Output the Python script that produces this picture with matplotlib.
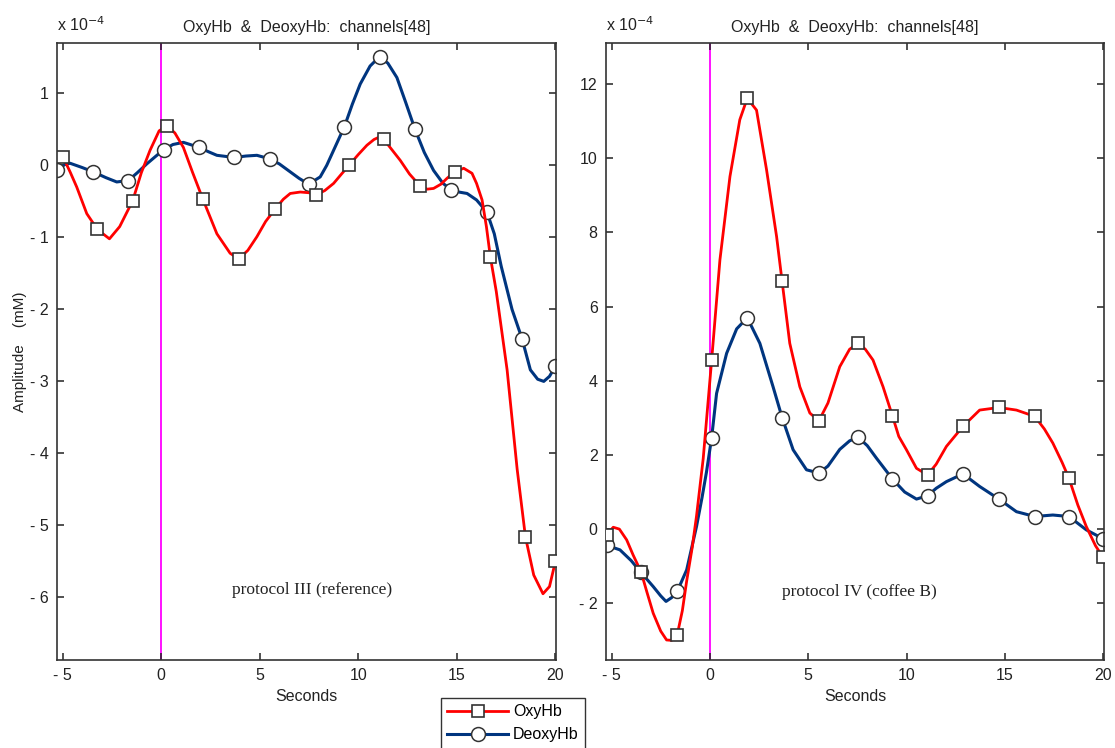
import matplotlib.pyplot as plt

# values, amplitude in units of 1e-4 mM, time in seconds
# protocol III (reference)
t_oxy_ref = [-5.1, -4.96, -4.6, -4.28, -3.77, -3.23, -2.62, -2.1, -1.44, -1.0,
             -0.56, -0.1, 0.30, 0.7, 1.13, 1.6, 2.12, 2.83, 3.5, 3.94,
             4.4, 4.86, 5.3, 5.77, 6.2, 6.55, 7.06, 7.5, 7.85, 8.3,
             8.75, 9.15, 9.53, 10.0, 10.44, 10.8, 11.12, 11.30, 11.7, 12.13,
             12.6, 13.15, 13.5, 13.82, 14.2, 14.5, 14.89, 15.35, 15.77, 16.0,
             16.28, 16.5, 16.70, 17.0, 17.55, 18.06, 18.48, 18.9, 19.37, 19.7, 20.0]
oxy_ref = [0.10, 0.11, -0.10, -0.30, -0.67, -0.89, -1.02, -0.85, -0.49, -0.10,
           0.21, 0.48, 0.55, 0.45, 0.25, -0.10, -0.47, -0.95, -1.22, -1.30,
           -1.18, -0.99, -0.78, -0.61, -0.47, -0.39, -0.37, -0.38, -0.41, -0.35,
           -0.25, -0.12, 0.00, 0.15, 0.28, 0.36, 0.40, 0.36, 0.22, 0.07,
           -0.12, -0.29, -0.33, -0.32, -0.26, -0.18, -0.09, -0.04, -0.11, -0.25,
           -0.48, -0.85, -1.27, -1.75, -2.84, -4.22, -5.16, -5.69, -5.95, -5.85, -5.50]
oxy_ref_marks = [-4.96, -3.23, -1.44, 0.30, 2.12, 3.94, 5.77, 7.85, 9.53, 11.30,
                 13.15, 14.89, 16.70, 18.48, 20.0]

t_deoxy_ref = [-5.26, -4.9, -4.62, -4.0, -3.44, -2.8, -2.25, -1.66, -1.2, -0.73,
               -0.3, 0.14, 0.6, 1.13, 1.93, 2.4, 2.83, 3.71, 4.3, 4.86,
               5.52, 6.0, 6.55, 7.0, 7.48, 8.07, 8.4, 8.75, 9.30, 9.7,
               10.1, 10.6, 11.08, 11.5, 11.96, 12.4, 12.88, 13.35, 13.82, 14.3,
               14.72, 15.1, 15.52, 16.0, 16.53, 16.9, 17.25, 17.8, 18.31, 18.73,
               19.1, 19.41, 19.7, 20.0]
deoxy_ref = [-0.07, 0.01, 0.03, -0.03, -0.09, -0.17, -0.23, -0.21, -0.10, 0.02,
             0.12, 0.22, 0.29, 0.32, 0.25, 0.19, 0.14, 0.11, 0.13, 0.14,
             0.09, 0.02, -0.09, -0.18, -0.26, -0.16, 0.00, 0.21, 0.54, 0.85,
             1.13, 1.38, 1.51, 1.42, 1.22, 0.88, 0.50, 0.18, -0.07, -0.25,
             -0.34, -0.37, -0.39, -0.48, -0.65, -0.95, -1.40, -2.00, -2.41, -2.84,
             -2.97, -3.00, -2.93, -2.79]
deoxy_ref_marks = [-5.26, -3.44, -1.66, 0.14, 1.93, 3.71, 5.52, 7.48, 9.30, 11.08,
                   12.88, 14.72, 16.53, 18.31, 20.0]

# protocol IV (coffee B)
t_oxy_cof = [-5.25, -4.91, -4.6, -4.23, -3.9, -3.5, -3.2, -2.88, -2.5, -2.2,
             -1.95, -1.66, -1.4, -1.18, -0.9, -0.68, -0.34, 0.09, 0.51, 1.02,
             1.52, 1.90, 2.37, 2.88, 3.39, 3.67, 4.06, 4.57, 5.08, 5.54,
             6.0, 6.6, 7.1, 7.53, 7.9, 8.29, 8.8, 9.28, 9.6, 9.99,
             10.5, 11.06, 11.5, 12.02, 12.86, 13.71, 14.69, 15.58, 16.51, 17.0,
             17.43, 17.9, 18.25, 18.7, 19.13, 19.6, 19.98]
oxy_cof = [-0.15, 0.05, 0.00, -0.29, -0.70, -1.15, -1.70, -2.27, -2.75, -2.99,
           -3.00, -2.85, -2.20, -1.40, -0.50, 0.35, 1.90, 4.56, 7.26, 9.51,
           11.04, 11.62, 11.30, 9.69, 7.89, 6.68, 5.01, 3.84, 3.13, 2.92,
           3.40, 4.38, 4.85, 5.01, 4.85, 4.56, 3.84, 3.05, 2.50, 2.14,
           1.64, 1.46, 1.75, 2.23, 2.77, 3.21, 3.28, 3.21, 3.04, 2.70,
           2.32, 1.80, 1.37, 0.65, 0.07, -0.45, -0.76]
oxy_cof_marks = [-5.25, -3.5, -1.66, 0.09, 1.90, 3.67, 5.54, 7.53, 9.28, 11.06,
                 12.86, 14.69, 16.51, 18.25, 19.98]

t_deoxy_cof = [-5.25, -4.9, -4.57, -4.0, -3.5, -2.88, -2.5, -2.23, -1.95, -1.66,
               -1.18, -0.68, -0.4, -0.17, 0.09, 0.34, 0.85, 1.36, 1.90, 2.54,
               3.21, 3.67, 4.23, 4.91, 5.54, 6.0, 6.6, 7.1, 7.53, 8.0,
               8.47, 9.28, 9.9, 10.5, 11.06, 11.5, 12.02, 12.86, 13.71, 14.69,
               15.58, 16.51, 17.43, 18.25, 19.13, 19.98]
deoxy_cof = [-0.43, -0.50, -0.56, -0.85, -1.17, -1.55, -1.80, -1.95, -1.85, -1.68,
             -1.10, 0.07, 0.85, 1.55, 2.47, 3.66, 4.74, 5.40, 5.70, 5.01,
             3.84, 3.01, 2.14, 1.60, 1.51, 1.70, 2.15, 2.38, 2.48, 2.25,
             1.91, 1.35, 1.00, 0.81, 0.90, 1.10, 1.28, 1.49, 1.15, 0.81,
             0.47, 0.34, 0.38, 0.34, -0.02, -0.26]
deoxy_cof_marks = [-5.25, -3.5, -1.66, 0.09, 1.90, 3.67, 5.54, 7.53, 9.28, 11.06,
                   12.86, 14.69, 16.51, 18.25, 19.98]

x_ticks = [-5, 0, 5, 10, 15, 20]
yticks_ref = [-6, -5, -4, -3, -2, -1, 0, 1]
yticks_cof = [-2, 0, 2, 4, 6, 8, 10, 12]

RED = '#ff0000'
BLUE = '#00357f'
EDGE = '#333333'

plt.rcParams['font.family'] = ['Liberation Sans', 'DejaVu Sans']


def matlab_label(v):
    # matlab draws the minus sign as a short dash with a gap
    return '- %g' % abs(v) if v < 0 else '%g' % v


def draw_panel(ax, t_oxy, oxy, oxy_marks, t_deoxy, deoxy, deoxy_marks,
               ylim, yticks, note, note_xy):
    ax.axvline(0, color='#ff00ff', lw=1.3, zorder=1)
    oxy_idx = [t_oxy.index(m) for m in oxy_marks]
    deoxy_idx = [t_deoxy.index(m) for m in deoxy_marks]
    l_oxy, = ax.plot(t_oxy, oxy, color=RED, lw=2.0, marker='s', markersize=8,
                     markerfacecolor='white', markeredgecolor=EDGE,
                     markeredgewidth=1.2, markevery=oxy_idx,
                     solid_joinstyle='round', zorder=3)
    l_deoxy, = ax.plot(t_deoxy, deoxy, color=BLUE, lw=2.2, marker='o', markersize=10,
                       markerfacecolor='white', markeredgecolor=EDGE,
                       markeredgewidth=1.1, markevery=deoxy_idx,
                       solid_joinstyle='round', zorder=2)
    ax.set_xlim(-5.28, 20.03)
    ax.set_ylim(*ylim)
    ax.set_xticks(x_ticks)
    ax.set_xticklabels([matlab_label(v) for v in x_ticks])
    ax.set_yticks(yticks)
    ax.set_yticklabels([matlab_label(v) for v in yticks])
    ax.tick_params(direction='in', length=5, width=1.1, top=True, right=True,
                   labelsize=11.5, colors='#222222', pad=6)
    for s in ax.spines.values():
        s.set_color(EDGE)
        s.set_linewidth(1.2)
    ax.set_xlabel('Seconds', fontsize=11.5, color='#222222', labelpad=4)
    ax.set_title('OxyHb  &  DeoxyHb:  channels[48]', fontsize=11.5,
                 color='#222222', pad=8)
    ax.text(0.0, 1.015, r'x 10$^{-4}$', transform=ax.transAxes, fontsize=11.5,
            color='#222222', ha='left', va='bottom')
    ax.text(note_xy[0], note_xy[1], note, family='Liberation Serif',
            fontsize=12.5, color='#222222', ha='center', va='center')
    return l_oxy, l_deoxy


fig = plt.figure(figsize=(11.15, 7.48), dpi=100)
ax1 = fig.add_axes([57 / 1115, 88 / 748, 499 / 1115, 617 / 748])
ax2 = fig.add_axes([606 / 1115, 88 / 748, 498 / 1115, 617 / 748])

h_oxy, h_deoxy = draw_panel(ax1, t_oxy_ref, oxy_ref, oxy_ref_marks,
                            t_deoxy_ref, deoxy_ref, deoxy_ref_marks,
                            (-6.87, 1.70), yticks_ref,
                            'protocol III (reference)', (7.67, -5.9))
draw_panel(ax2, t_oxy_cof, oxy_cof, oxy_cof_marks,
           t_deoxy_cof, deoxy_cof, deoxy_cof_marks,
           (-3.53, 13.11), yticks_cof,
           'protocol IV (coffee B)', (7.62, -1.69))

ax1.set_ylabel('Amplitude    (mM)', fontsize=11, color='#222222', labelpad=2)

leg = fig.legend([h_oxy, h_deoxy], ['OxyHb', 'DeoxyHb'], loc='upper left',
                 bbox_to_anchor=(441 / 1115, 1 - 698 / 748), borderaxespad=0,
                 fontsize=11.5, frameon=True, fancybox=False, edgecolor='black',
                 handlelength=3.8, borderpad=0.4, labelspacing=0.5,
                 handletextpad=0.3)
leg.get_frame().set_linewidth(1.0)

fig.savefig('out.png', dpi=100)
